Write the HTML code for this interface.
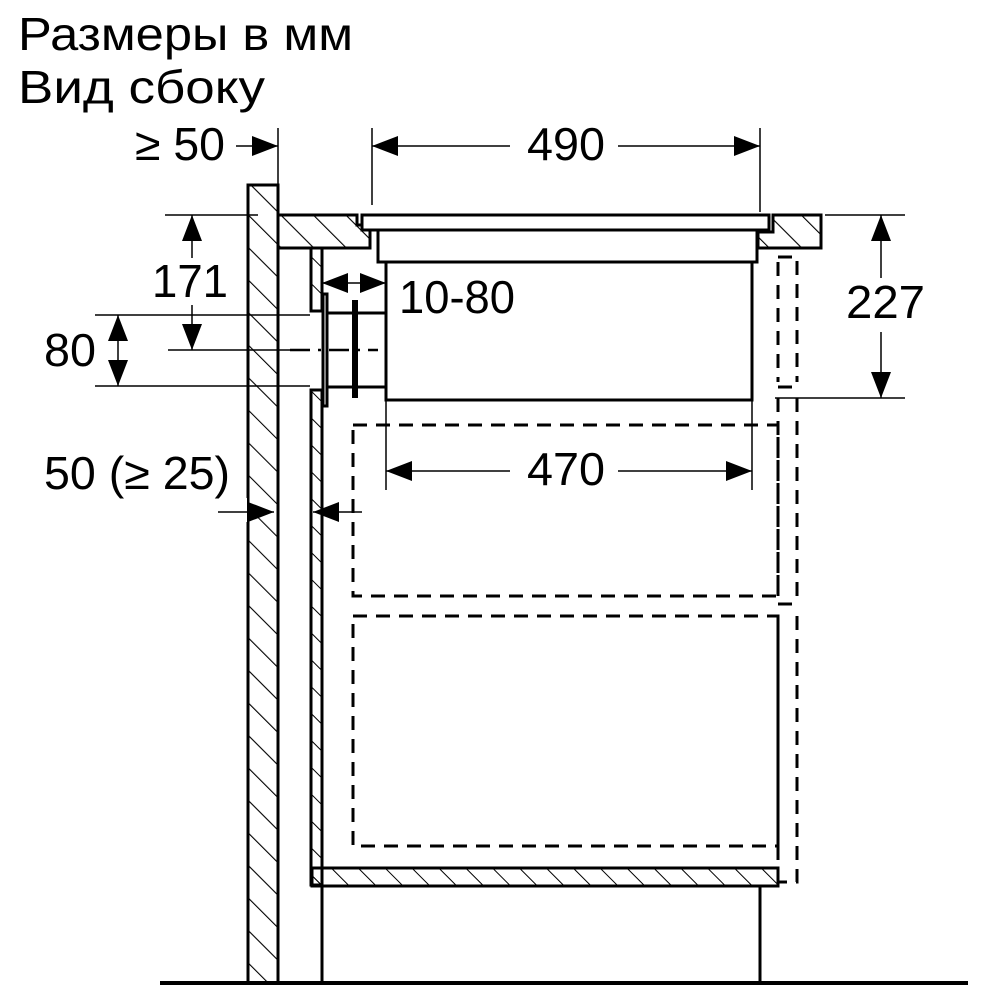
<!DOCTYPE html>
<html><head><meta charset="utf-8"><style>
html,body{margin:0;padding:0;background:#fff}
svg{display:block}
text{font-family:"Liberation Sans","DejaVu Sans",sans-serif;fill:#000}
</style></head><body>
<svg width="1000" height="1000" viewBox="0 0 1000 1000" xmlns="http://www.w3.org/2000/svg">
<defs>
<pattern id="h" patternUnits="userSpaceOnUse" width="23" height="23" patternTransform="rotate(-45)">
<line x1="0" y1="0" x2="0" y2="23" stroke="#000" stroke-width="2.2"/>
</pattern>
<pattern id="h2" patternUnits="userSpaceOnUse" width="19" height="19" patternTransform="rotate(-45)">
<line x1="0" y1="0" x2="0" y2="19" stroke="#000" stroke-width="2"/>
</pattern>
</defs>
<text x="18" y="50" font-size="46" textLength="335" lengthAdjust="spacingAndGlyphs">Размеры в мм</text>
<text x="18" y="103" font-size="46" textLength="247" lengthAdjust="spacingAndGlyphs">Вид сбоку</text>

<g fill="none" stroke="#000" stroke-width="3">
<rect x="248" y="185" width="30" height="798" fill="url(#h)"/>
<rect x="244" y="498" width="3" height="24" fill="#fff" stroke="none"/>
<path d="M278 215 H357 V225 H370 V248 H278 Z" fill="url(#h)"/>
<rect x="362" y="215" width="407" height="15" fill="#fff"/>
<path d="M378 230 V262 H757 V230" />
<rect x="386" y="262" width="366" height="138"/>
<path d="M773 215 H821 V248 H758 V232 H773 Z" fill="url(#h)"/>
<path d="M311 248 H322 V311 H311 Z" fill="url(#h2)"/>
<path d="M311 390 H322 V885 H311 Z" fill="url(#h2)"/>
<rect x="323" y="294" width="4" height="112" fill="#fff"/>
<path d="M327 313 H386 M327 387 H386"/>
<line x1="355" y1="300" x2="355" y2="398" stroke-width="6"/>
<rect x="312" y="868" width="466" height="18" fill="url(#h2)"/>
<path d="M322 886 V983 M760 886 V983"/>
<line x1="160" y1="983" x2="968" y2="983" stroke-width="4"/>
</g>

<g fill="none" stroke="#000" stroke-width="3" stroke-dasharray="14 9">
<rect x="353" y="425" width="425" height="171"/>
<rect x="353" y="616" width="425" height="230"/>
<path d="M778 257 H797 V382 M778 262 V382 M778 398 V602 M797 398 V602 M778 616 V870 M797 616 V882 H778"/>
<path d="M778 387 H797 M778 604 H797"/>
</g>

<g stroke="#000" stroke-width="1.5" fill="none">
<path d="M372 128 V205 M760 128 V212 M278 128 V185"/>
<path d="M165 215 H258 M825 215 H905 M775 398 H905"/>
<path d="M95 315 H310 M95 386 H310"/>
<path d="M168 350 H290" />
<path d="M290 350 H378" stroke-dasharray="20 8 3 8" stroke-width="2.5"/>
<path d="M386 400 V490 M752 400 V490"/>
<path d="M372 146 H510 M618 146 H760"/>
<path d="M386 471 H510 M618 471 H752"/>
<path d="M236 146 H278"/>
<path d="M218 512 H274 M313 512 H362"/>
<path d="M322 283 H386"/>
<path d="M192 215 V258 M192 305 V350"/>
<path d="M118 315 V386"/>
<path d="M881 215 V278 M881 332 V398"/>
</g>
<g fill="#000">
<path d="M372 146 l26 -10 v20 z M760 146 l-26 -10 v20 z"/>
<path d="M386 471 l26 -10 v20 z M752 471 l-26 -10 v20 z"/>
<path d="M278 146 l-26 -10 v20 z"/>
<path d="M274 512 l-26 -10 v20 z M313 512 l26 -10 v20 z"/>
<path d="M322 283 l26 -10 v20 z M386 283 l-26 -10 v20 z"/>
<path d="M192 215 l-10 26 h20 z M192 350 l-10 -26 h20 z"/>
<path d="M118 315 l-10 26 h20 z M118 386 l-10 -26 h20 z"/>
<path d="M881 215 l-10 26 h20 z M881 398 l-10 -26 h20 z"/>
</g>

<g font-size="46">
<text x="527" y="160" textLength="78" lengthAdjust="spacingAndGlyphs">490</text>
<text x="527" y="485" textLength="78" lengthAdjust="spacingAndGlyphs">470</text>
<text x="135" y="160" textLength="90" lengthAdjust="spacingAndGlyphs">≥ 50</text>
<text x="152" y="297" textLength="76" lengthAdjust="spacingAndGlyphs">171</text>
<text x="44" y="366" textLength="52" lengthAdjust="spacingAndGlyphs">80</text>
<text x="399" y="313" textLength="116" lengthAdjust="spacingAndGlyphs">10-80</text>
<text x="846" y="318" textLength="79" lengthAdjust="spacingAndGlyphs">227</text>
<text x="44" y="489" textLength="186" lengthAdjust="spacingAndGlyphs">50 (≥ 25)</text>
</g>
</svg>
</body></html>
